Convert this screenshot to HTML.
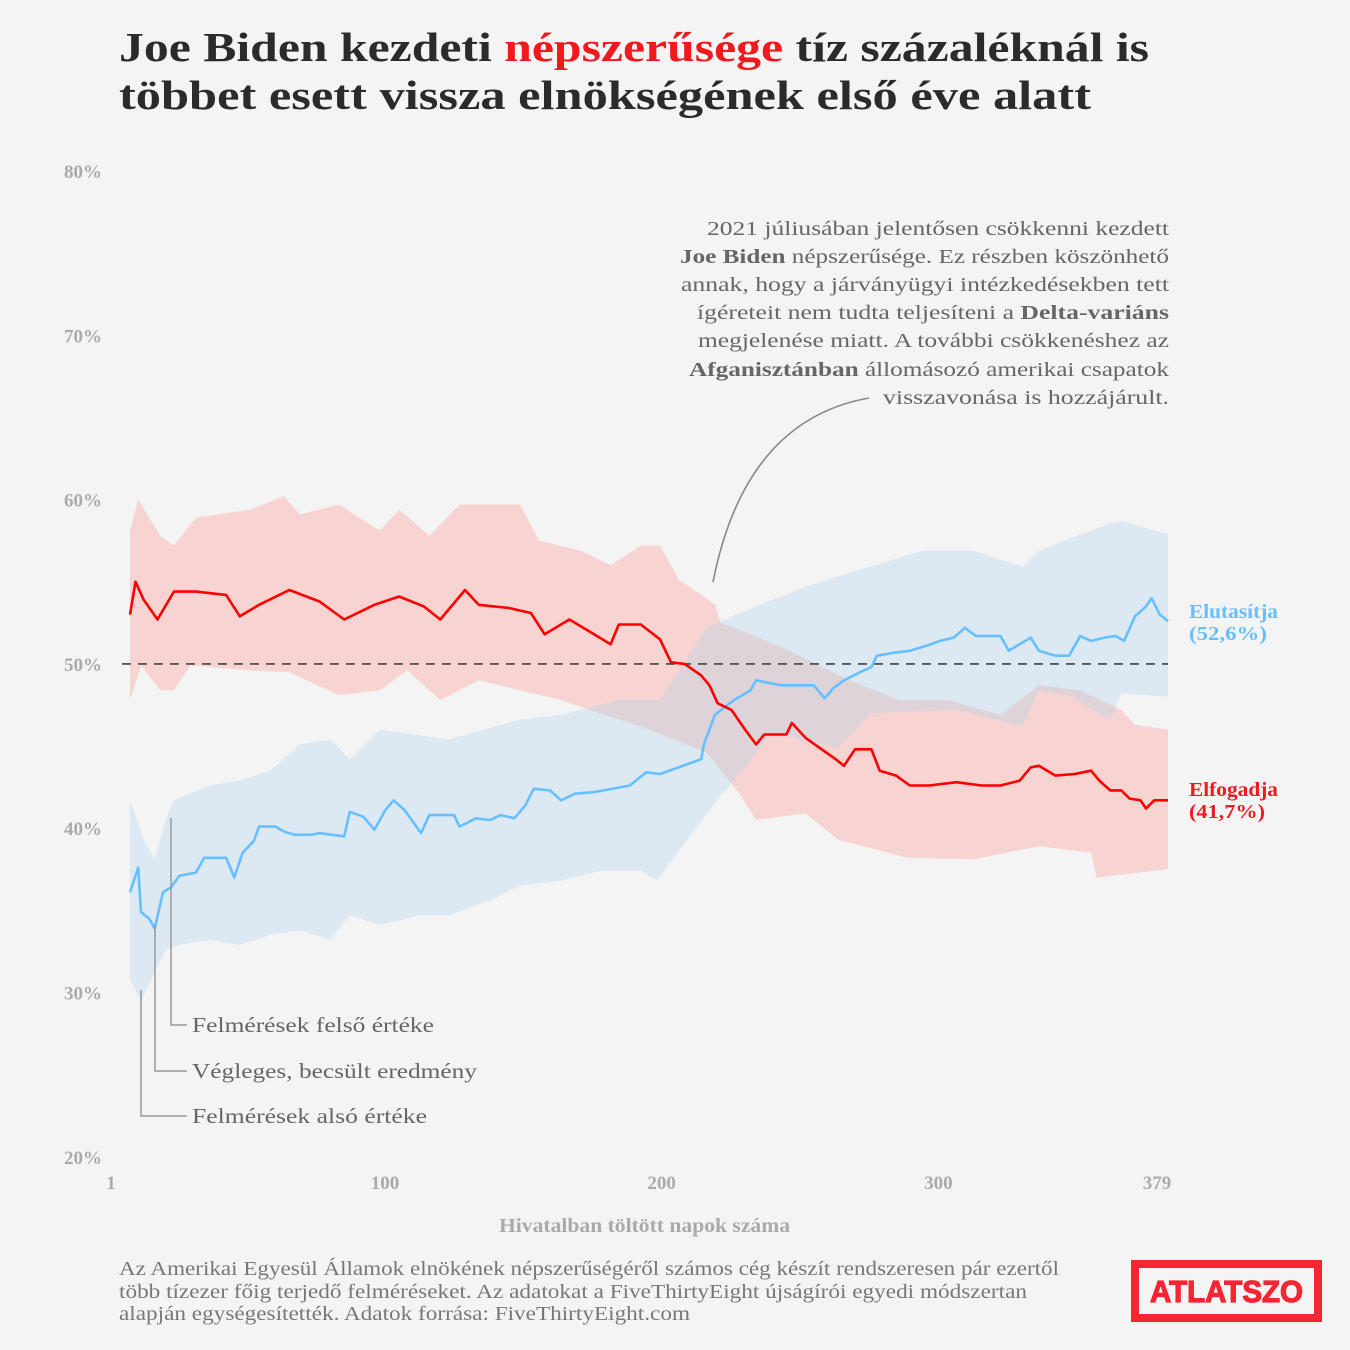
<!DOCTYPE html>
<html><head><meta charset="utf-8"><style>
html,body{margin:0;padding:0;background:#f4f4f4;}
svg{display:block;}
text{font-family:"Liberation Serif",serif;}
</style></head><body>
<svg id="chart" width="1350" height="1350" viewBox="0 0 1350 1350" xmlns="http://www.w3.org/2000/svg">
<rect width="1350" height="1350" fill="#f4f4f4"/>
<g font-weight="bold" font-size="41" fill="#2b2b2b">
<text x="119" y="61" textLength="1030" lengthAdjust="spacingAndGlyphs">Joe Biden kezdeti <tspan fill="#f0191e">népszerűsége</tspan> tíz százaléknál is</text>
<text x="119" y="109" textLength="972" lengthAdjust="spacingAndGlyphs">többet esett vissza elnökségének első éve alatt</text>
</g>
<g id="yaxis"></g>
<g id="xaxis"></g>
<text x="499" y="1232" font-size="20" fill="#aaa" font-weight="bold" textLength="291" lengthAdjust="spacingAndGlyphs">Hivatalban töltött napok száma</text>
<g id="bands"></g>
<line id="ref50" x1="122" x2="1168" stroke="#444" stroke-width="1.6" stroke-dasharray="9,7"/>
<g id="lines"></g>
<g font-size="20.5" fill="#666" text-anchor="end">
<text x="1169" y="235" textLength="462" lengthAdjust="spacingAndGlyphs">2021 júliusában jelentősen csökkenni kezdett</text>
<text x="1169" y="263" textLength="489" lengthAdjust="spacingAndGlyphs"><tspan font-weight="bold">Joe Biden</tspan> népszerűsége. Ez részben köszönhető</text>
<text x="1169" y="291" textLength="488" lengthAdjust="spacingAndGlyphs">annak, hogy a járványügyi intézkedésekben tett</text>
<text x="1169" y="319" textLength="472" lengthAdjust="spacingAndGlyphs">ígéreteit nem tudta teljesíteni a <tspan font-weight="bold">Delta-variáns</tspan></text>
<text x="1169" y="347" textLength="471" lengthAdjust="spacingAndGlyphs">megjelenése miatt. A további csökkenéshez az</text>
<text x="1169" y="376" textLength="480" lengthAdjust="spacingAndGlyphs"><tspan font-weight="bold">Afganisztánban</tspan> állomásozó amerikai csapatok</text>
<text x="1169" y="404" textLength="286" lengthAdjust="spacingAndGlyphs">visszavonása is hozzájárult.</text>
</g>
<path d="M869,398 Q745,420 713,582" fill="none" stroke="#888" stroke-width="1.6"/>
<g stroke="#999" stroke-width="1.5" fill="none">
<polyline points="171,818 171,1025 187,1025"/>
<polyline points="155,925 155,1071 187,1071"/>
<polyline points="141,990 141,1116 187,1116"/>
</g>
<g font-size="21" fill="#666">
<text x="192" y="1032" textLength="242" lengthAdjust="spacingAndGlyphs">Felmérések felső értéke</text>
<text x="192" y="1078" textLength="285" lengthAdjust="spacingAndGlyphs">Végleges, becsült eredmény</text>
<text x="192" y="1123" textLength="235" lengthAdjust="spacingAndGlyphs">Felmérések alsó értéke</text>
</g>
<g font-size="19.5" font-weight="bold">
<text x="1189" y="618" fill="#66bfff" textLength="89" lengthAdjust="spacingAndGlyphs">Elutasítja</text>
<text x="1189" y="640" fill="#66bfff" textLength="78" lengthAdjust="spacingAndGlyphs">(52,6%)</text>
<text x="1189" y="796" fill="#f0191e" textLength="89" lengthAdjust="spacingAndGlyphs">Elfogadja</text>
<text x="1189" y="818" fill="#f0191e" textLength="76" lengthAdjust="spacingAndGlyphs">(41,7%)</text>
</g>
<g font-size="19.5" fill="#777">
<text x="119" y="1275" textLength="940" lengthAdjust="spacingAndGlyphs">Az Amerikai Egyesül Államok elnökének népszerűségéről számos cég készít rendszeresen pár ezertől</text>
<text x="119" y="1298" textLength="908" lengthAdjust="spacingAndGlyphs">több tízezer főig terjedő felméréseket. Az adatokat a FiveThirtyEight újságírói egyedi módszertan</text>
<text x="119" y="1320" textLength="571" lengthAdjust="spacingAndGlyphs">alapján egységesítették. Adatok forrása: FiveThirtyEight.com</text>
</g>
<g>
<rect x="1135" y="1264" width="183" height="54" fill="none" stroke="#f62532" stroke-width="8"/>
<text x="1150" y="1302" font-weight="900" font-size="31" fill="#f62532" textLength="153" lengthAdjust="spacingAndGlyphs" stroke="#f62532" stroke-width="1.2" style="font-family:'Liberation Sans',sans-serif">ATLATSZO</text>
</g>
</svg>
<script>
const yTicks=[20,30,40,50,60,70,80];
const xTicks=[1,100,200,300,379];
const approveDays=[1,3,6,11,17,25,36,41,48,59,70,79,90,99,108,114,123,128,139,147,152,161,170,176,179,187,194,198,203,209,212,215,220,225,229,232,240,242,247,252,258,261,265,271,274,280,285,292,302,311,318,325,329,332,338,345,351,354,358,362,365,369,371,374,379];
const approveVals=[53.0,55.0,53.9,52.7,54.4,54.4,54.2,52.9,53.6,54.5,53.8,52.7,53.6,54.1,53.5,52.7,54.5,53.6,53.4,53.1,51.8,52.7,51.8,51.2,52.4,52.4,51.5,50.1,50.0,49.3,48.7,47.6,47.2,46.0,45.1,45.7,45.7,46.4,45.5,44.9,44.2,43.8,44.8,44.8,43.5,43.2,42.6,42.6,42.8,42.6,42.6,42.9,43.7,43.8,43.2,43.3,43.5,42.9,42.3,42.3,41.8,41.7,41.2,41.7,41.7];
const disDays=[1,4,5,8,10,13,16,19,25,28,36,39,42,46,48,54,57,61,67,70,79,81,86,90,94,97,101,107,110,119,121,127,132,136,141,145,148,154,158,163,170,183,189,194,209,210,214,221,227,229,238,245,250,254,257,261,267,271,273,280,285,291,296,301,305,309,318,321,329,332,338,343,347,351,356,360,363,367,371,373,376,379];
const disVals=[36.1,37.6,34.9,34.5,33.9,36.1,36.4,37.1,37.3,38.2,38.2,37.0,38.5,39.2,40.1,40.1,39.8,39.6,39.6,39.7,39.5,41.0,40.7,39.9,41.1,41.7,41.1,39.7,40.8,40.8,40.1,40.6,40.5,40.8,40.6,41.4,42.4,42.3,41.7,42.1,42.2,42.6,43.4,43.3,44.2,45.1,46.9,47.8,48.4,49.0,48.7,48.7,48.7,47.9,48.5,49.0,49.5,49.8,50.5,50.7,50.8,51.1,51.4,51.6,52.2,51.7,51.7,50.8,51.6,50.8,50.5,50.5,51.7,51.4,51.6,51.7,51.4,52.9,53.5,54.0,53.0,52.6];
const apUpDays=[1,4,12,17,25,45,57,63,77,92,99,110,121,132,143,150,165,176,187,194,201,209,214,216,227,241,263,281,299,318,332,347,362,367,379];
const apUpVals=[58.1,60.0,57.8,57.2,58.9,59.4,60.2,59.1,59.7,58.1,59.4,57.8,59.7,59.7,59.7,57.5,56.9,56.0,57.2,57.2,55.1,54.2,53.6,52.5,51.8,50.8,49.0,47.8,47.8,46.9,48.7,48.4,47.2,46.3,46.0];
const apLoDays=[1,5,12,17,23,45,59,77,92,102,114,128,143,158,172,187,211,223,229,247,259,284,308,332,351,353,379];
const apLoVals=[47.8,49.9,48.4,48.4,49.9,49.6,49.5,48.1,48.4,49.6,47.8,49.0,48.4,47.8,47.0,46.2,44.6,42.1,40.5,40.9,39.3,38.2,38.1,38.9,38.5,37.0,37.5];
const disUpDays=[1,6,10,14,17,30,41,52,63,74,81,92,117,143,158,179,194,211,223,247,266,290,308,326,332,357,362,379];
const disUpVals=[41.7,39.3,38.1,40.5,41.7,42.6,42.9,43.5,45.1,45.4,44.2,46.0,45.4,46.6,46.9,47.8,47.8,52.2,53.1,54.7,55.7,56.9,56.9,55.9,56.9,58.5,58.7,57.9];
const disLoDays=[1,5,14,19,30,41,52,63,74,81,92,107,117,132,143,158,172,187,193,211,235,259,271,302,326,332,344,358,362,379];
const disLoVals=[30.8,29.5,32.6,32.9,33.2,32.9,33.5,33.8,33.2,34.7,34.1,34.7,34.7,35.6,36.5,36.8,37.4,37.4,36.8,40.9,45.8,44.9,47.0,47.2,46.2,48.4,48.0,46.6,48.2,48.0];

const NS='http://www.w3.org/2000/svg';
function yScale(v){return 171+(80-v)*16.43;}
function xScale(d){return 130+(d-1)*(1038/378);}
function tickX(d){return 111+(d-1)*(1046/378);}
function pts(days,vals){return days.map((d,i)=>xScale(d).toFixed(1)+','+yScale(vals[i]).toFixed(1));}

const ya=document.getElementById('yaxis');
yTicks.forEach(t=>{
  const tx=document.createElementNS(NS,'text');
  
  
  tx.setAttribute('x',102);tx.setAttribute('y',yScale(t)+7);
  tx.setAttribute('text-anchor','end');tx.setAttribute('font-size','19');
  tx.setAttribute('fill','#aaa');tx.setAttribute('font-weight','bold');
  tx.textContent=t+'%';ya.appendChild(tx);
});
const xa=document.getElementById('xaxis');
xTicks.forEach(t=>{
  const tx=document.createElementNS(NS,'text');
  
  
  tx.setAttribute('x',tickX(t));tx.setAttribute('y',1189);
  tx.setAttribute('text-anchor','middle');tx.setAttribute('font-size','19');
  tx.setAttribute('fill','#aaa');tx.setAttribute('font-weight','bold');
  tx.textContent=t;xa.appendChild(tx);
});
const r=document.getElementById('ref50');
r.setAttribute('y1',yScale(50));r.setAttribute('y2',yScale(50));

const bands=document.getElementById('bands');
function band(upD,upV,loD,loV,color,name){
  const p=document.createElementNS(NS,'polygon');
  
  
  const up=pts(upD,upV), lo=pts(loD,loV).reverse();
  p.setAttribute('points',up.concat(lo).join(' '));
  p.setAttribute('fill',color);p.setAttribute('fill-opacity','0.3');
  bands.appendChild(p);
}
band(apUpDays,apUpVals,apLoDays,apLoVals,'rgb(255,140,130)','approve-band');
band(disUpDays,disUpVals,disLoDays,disLoVals,'rgb(170,210,240)','disapprove-band');

const lines=document.getElementById('lines');
function line(days,vals,color,name){
  const p=document.createElementNS(NS,'polyline');
  
  
  p.setAttribute('points',pts(days,vals).join(' '));
  p.setAttribute('fill','none');p.setAttribute('stroke',color);
  p.setAttribute('stroke-width','2.6');p.setAttribute('stroke-linejoin','round');
  lines.appendChild(p);
}
line(disDays,disVals,'#66bfff','disapprove-line');
line(approveDays,approveVals,'#ff0000','approve-line');
</script>
</body></html>
